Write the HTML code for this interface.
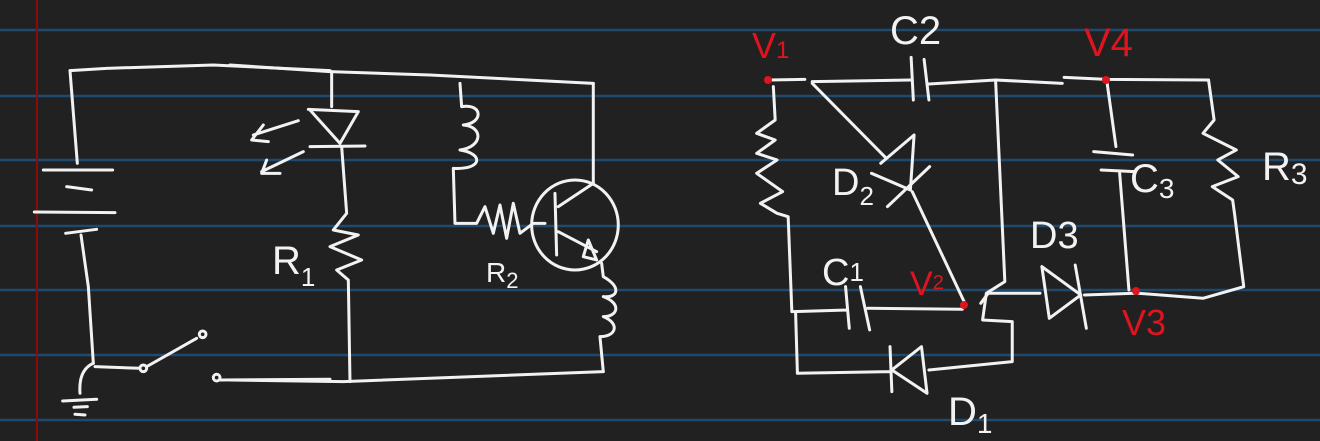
<!DOCTYPE html>
<html><head><meta charset="utf-8"><style>
html,body{margin:0;padding:0;background:#212121;}
svg{display:block;}
.w{fill:none;stroke:#f2f2f2;stroke-width:3;stroke-linecap:round;stroke-linejoin:round;}
.w *{vector-effect:non-scaling-stroke;}
text{font-family:"Liberation Sans",sans-serif;fill:#f2f2f2;}
.r{fill:#e0141e;}
</style></head><body>
<svg width="1320" height="441" viewBox="0 0 1320 441">
<rect width="1320" height="441" fill="#212121"/>
<g stroke="#1d4a6e" stroke-width="2.5">
<line x1="0" y1="30" x2="1320" y2="30"/><line x1="0" y1="96" x2="1320" y2="96"/>
<line x1="0" y1="160" x2="1320" y2="160"/><line x1="0" y1="226" x2="1320" y2="226"/>
<line x1="0" y1="290" x2="1320" y2="290"/><line x1="0" y1="355" x2="1320" y2="355"/>
<line x1="0" y1="420" x2="1320" y2="420"/>
</g>
<line x1="37" y1="0" x2="37" y2="441" stroke="#8c0a0a" stroke-width="2"/>

<g class="w" transform="scale(0.3333)">
<path d="M210,212 L320,205 L640,195 L990,212"/>
<path d="M210,212 L232,490"/>
<path d="M130,510 L338,510 M200,560 L275,570 M103,636 L345,638 M197,700 L290,688"/>
<path d="M243,705 L265,860 L280,1090 M285,1100 L420,1105 M440,1100 L590,1015 M660,1140 L990,1138"/>
<circle cx="430" cy="1105" r="10"/><circle cx="608" cy="1003" r="10"/><circle cx="650" cy="1133" r="10"/>
<path d="M280,1090 Q235,1110 240,1180 M188,1203 L290,1198 M222,1222 L262,1220 M225,1243 L255,1245"/>
</g>

<g class="w" transform="translate(230,60) scale(0.3333)">
<path d="M0,15 L300,35 L600,45 L1090,70"/>
<path d="M305,35 L305,140 M235,148 L385,155 L330,250 L240,150 M240,260 L405,258"/>
<path d="M335,260 L350,460 L310,510 L385,525 L300,560 L395,600 L320,630 L355,660 L360,965"/>
<path d="M205,182 L70,225 M100,195 L65,240 L115,245 M220,275 L95,335 M110,300 L95,340 L150,340"/>
<path d="M0,960 L340,965 L1120,935"/>
<path d="M690,70 L695,140 C760,130 760,190 700,195 C760,200 760,260 690,270 C760,280 760,330 670,325 L675,490 L740,490 L765,440 L790,520 L810,435 L830,535 L850,430 L870,520 L910,490 L945,490"/>
<ellipse cx="1035" cy="495" rx="130" ry="135"/>
<path d="M975,400 L980,585 M985,440 L1090,370 L1090,70 M985,515 L1100,575 M1075,540 L1100,600 L1060,590 Z"/>
<path d="M1115,610 L1120,650 C1175,680 1165,715 1120,710 C1175,730 1165,770 1120,770 C1170,790 1160,830 1110,830 L1120,935"/>
</g>

<g class="w" transform="translate(740,0) scale(0.3704,0.3333)">
<path d="M80,240 L175,238 M195,245 L460,240 M462,172 L468,300 M497,178 L510,300 M510,252 L690,240 L870,250 M875,232 L990,238 L1265,240"/>
<path d="M90,260 L95,360 L45,400 L95,420 L45,460 L100,480 L45,520 L115,575 L55,610 L100,640 L130,650 L140,935"/>
<path d="M145,935 L290,930 M285,860 L295,985 M325,860 L350,990 M345,925 L600,928"/>
<path d="M195,250 L395,475 M380,490 L470,405 L460,570 M355,520 L460,570 M398,620 L512,500 M465,575 L605,905"/>
<path d="M690,240 L715,845 L665,880 L655,960 L735,965 L735,1085 L510,1110"/>
<path d="M150,935 L155,1120 L405,1115 M405,1040 L410,1175 M490,1040 L410,1110 L505,1180 Z"/>
<path d="M650,910 L670,880 L810,880 M815,800 L835,955 M815,800 L920,885 L835,955 M905,795 L935,985 M930,885 L1065,880"/>
<path d="M1075,880 L1250,895 L1360,860 L1335,640 L1330,600 L1275,560 L1345,530 L1290,480 L1340,450 L1250,400 L1280,360 L1265,240"/>
<path d="M990,240 L1015,440 M955,455 L1060,465 M975,510 L1065,515 M1025,520 L1050,870"/>
</g>
<g>
<circle class="r" cx="768" cy="80" r="4"/>
<circle class="r" cx="1106" cy="80" r="4"/>
<circle class="r" cx="964" cy="305" r="4"/>
<circle class="r" cx="1136" cy="291" r="4"/>
</g>
<g>
<text x="272" y="274" font-size="40">R<tspan font-size="26" dy="12">1</tspan></text>
<text x="486" y="282" font-size="28">R<tspan font-size="22" dy="6">2</tspan></text>
<text x="752" y="58" font-size="36" class="r">V<tspan font-size="24">1</tspan></text>
<text x="890" y="44" font-size="40">C2</text>
<text x="1084" y="56" font-size="40" class="r">V4</text>
<text x="832" y="195" font-size="38">D<tspan font-size="26" dy="10">2</tspan></text>
<text x="1130" y="192" font-size="40">C<tspan font-size="28" dy="6">3</tspan></text>
<text x="1262" y="180" font-size="40">R<tspan font-size="30" dy="4">3</tspan></text>
<text x="1030" y="248" font-size="38">D3</text>
<text x="822" y="285" font-size="38">C<tspan font-size="26" dy="-4">1</tspan></text>
<text x="910" y="295" font-size="34" class="r">V<tspan font-size="20" dy="-6">2</tspan></text>
<text x="1122" y="335" font-size="36" class="r">V3</text>
<text x="948" y="425" font-size="40">D<tspan font-size="28" dy="8">1</tspan></text>
</g>
</svg>
</body></html>
